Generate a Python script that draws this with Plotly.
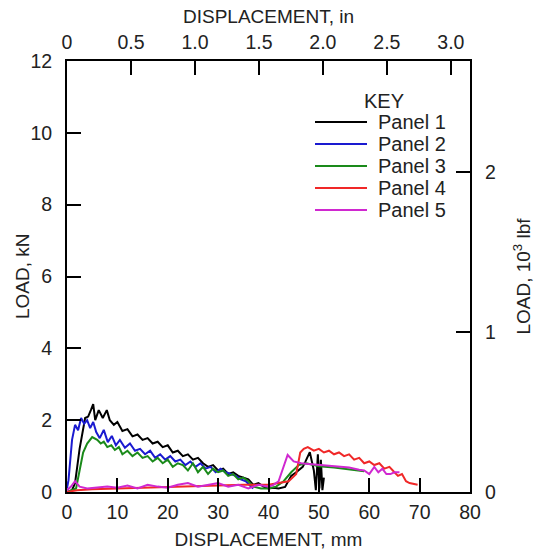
import plotly.graph_objects as go

# Panel data: displacement (mm), load (kN)
p1_x = [0.0, 1.0, 1.6, 2.5, 3.6, 4.2, 4.8, 5.2, 5.6, 6.3, 7.1, 7.9, 8.5, 9.3, 10.0, 11.0, 12.0, 13.0, 14.0, 15.0, 16.0, 17.0, 18.0, 19.0, 20.0, 21.0, 22.0, 23.0, 24.0, 25.0, 26.0, 27.0, 28.0, 29.0, 30.0, 31.0, 32.0, 33.0, 34.0, 35.0, 36.0, 37.0, 38.0, 39.0, 40.0, 41.0, 42.0, 43.3, 44.5, 45.5, 46.8, 47.3, 48.2, 49.0, 49.4, 49.8, 50.1, 50.4, 50.7, 51.0]
p1_y = [0.0, 0.05, 0.25, 1.2, 2.06, 2.1, 2.3, 2.45, 2.0, 2.28, 2.06, 2.28, 2.0, 1.87, 1.95, 1.7, 1.75, 1.55, 1.6, 1.45, 1.5, 1.35, 1.4, 1.25, 1.3, 1.1, 1.15, 1.0, 1.05, 0.9, 0.95, 0.8, 0.7, 0.75, 0.6, 0.65, 0.5, 0.55, 0.45, 0.4, 0.35, 0.2, 0.25, 0.15, 0.1, 0.12, 0.1, 0.14, 0.45, 0.55, 0.7, 0.84, 1.11, 0.6, 0.05, 1.05, 0.1, 0.9, 0.05, 0.4]

p2_x = [0.0, 0.3, 1.0, 1.6, 2.2, 2.8, 3.4, 4.0, 4.6, 5.2, 5.8, 6.5, 7.3, 8.1, 8.9, 9.7, 10.5, 11.5, 12.5, 13.5, 14.5, 15.5, 16.5, 17.5, 18.5, 19.5, 20.5, 21.5, 22.5, 23.5, 24.5, 25.5, 26.5, 27.5, 28.5, 29.5, 30.5, 31.5, 32.5, 33.5, 34.5, 35.5, 36.5, 37.0]
p2_y = [0.1, 0.33, 1.45, 1.87, 1.72, 2.06, 1.9, 2.0, 1.78, 1.95, 1.67, 1.5, 1.73, 1.39, 1.56, 1.3, 1.45, 1.23, 1.35, 1.15, 1.2, 1.05, 1.15, 0.95, 1.05, 0.9, 1.0, 0.85, 0.9, 0.75, 0.85, 0.7, 0.8, 0.65, 0.7, 0.55, 0.65, 0.55, 0.5, 0.45, 0.35, 0.3, 0.15, 0.1]

p3_x = [0.0, 1.0, 1.8, 2.5, 3.2, 4.0, 5.0, 6.0, 6.7, 7.3, 8.0, 8.8, 9.5, 10.3, 11.0, 12.0, 13.0, 14.0, 15.0, 16.0, 17.0, 18.0, 19.0, 20.0, 21.0, 22.0, 23.0, 24.0, 25.0, 26.0, 27.0, 28.0, 29.0, 30.0, 31.0, 32.0, 33.0, 34.0, 35.0, 36.0, 37.0, 38.5, 40.0, 41.5, 43.0, 44.5, 46.0, 47.5, 50.0, 53.0, 56.0, 59.0]
p3_y = [0.0, 0.05, 0.1, 0.6, 1.1, 1.35, 1.53, 1.45, 1.35, 1.4, 1.25, 1.3, 1.17, 1.25, 1.05, 1.15, 1.0, 1.1, 0.95, 1.0, 0.85, 0.95, 0.8, 0.9, 0.7, 0.8, 0.75, 0.6, 0.8, 0.55, 0.7, 0.5, 0.65, 0.55, 0.6, 0.45, 0.5, 0.35, 0.4, 0.3, 0.15, 0.1, 0.1, 0.15, 0.3, 0.55, 0.75, 0.8, 0.72, 0.68, 0.62, 0.58]

p4_x = [0.0, 2.0, 5.0, 10.0, 15.0, 20.0, 25.0, 30.0, 35.0, 40.0, 42.0, 44.0, 45.5, 46.3, 47.0, 47.8, 49.0, 50.0, 51.0, 52.0, 53.0, 54.0, 55.0, 56.0, 57.0, 58.0, 59.0, 60.0, 61.0, 62.0, 63.0, 64.0, 65.0, 65.7, 66.5, 67.3, 68.0, 69.6]
p4_y = [0.0, 0.05, 0.08, 0.1, 0.12, 0.15, 0.15, 0.18, 0.2, 0.2, 0.25, 0.3, 0.5, 1.1, 1.2, 1.25, 1.15, 1.2, 1.1, 1.15, 1.05, 1.1, 1.0, 1.05, 0.9, 0.95, 0.8, 0.85, 0.75, 0.8, 0.65, 0.7, 0.55, 0.45, 0.5, 0.3, 0.25, 0.2]

p5_x = [0.0, 0.8, 1.6, 2.5, 4.0, 6.0, 8.0, 10.0, 12.0, 14.0, 16.0, 18.0, 20.0, 22.0, 24.0, 26.0, 28.0, 30.0, 32.0, 34.0, 36.0, 38.0, 40.0, 41.0, 42.0, 43.0, 43.8, 45.0, 46.5, 48.0, 50.0, 52.0, 54.0, 56.0, 58.0, 59.0, 60.0, 61.0, 61.8, 62.6, 63.4, 64.2, 65.0, 66.0]
p5_y = [0.05, 0.15, 0.3, 0.15, 0.1, 0.12, 0.15, 0.12, 0.18, 0.1, 0.2, 0.15, 0.12, 0.2, 0.25, 0.15, 0.2, 0.25, 0.15, 0.2, 0.1, 0.2, 0.15, 0.2, 0.3, 0.7, 1.03, 0.85, 0.8, 0.78, 0.75, 0.72, 0.7, 0.68, 0.62, 0.6, 0.5, 0.7, 0.55, 0.65, 0.5, 0.5, 0.55, 0.55]

panels = ["Panel 1", "Panel 2", "Panel 3", "Panel 4", "Panel 5"]
colors = ["#000000", "#1a1ad0", "#1a8a1a", "#f02828", "#d028d0"]
series = [(p1_x, p1_y), (p2_x, p2_y), (p3_x, p3_y), (p4_x, p4_y), (p5_x, p5_y)]

x_mm_ticks = [0, 10, 20, 30, 40, 50, 60, 70, 80]
x_in_ticks = [0, 0.5, 1.0, 1.5, 2.0, 2.5, 3.0]
x_in_labels = ["0", "0.5", "1.0", "1.5", "2.0", "2.5", "3.0"]
y_kn_ticks = [0, 2, 4, 6, 8, 10, 12]
y_klbf_ticks = [0, 1, 2]

MM_PER_IN = 25.4
KN_PER_KLBF = 4.448

FONT = "Liberation Sans, Arial, sans-serif"
TXT = "#222222"
W, H = 534, 552
L, R, T, B = 67, 64, 61, 60

fig = go.Figure()
for name, col, (xs, ys) in zip(panels, colors, series):
    fig.add_trace(go.Scatter(x=xs, y=ys, mode="lines", name=name, showlegend=False,
                             line=dict(color=col, width=2)))

# trace on secondary axes (no data) so those axes are drawn
fig.add_trace(go.Scatter(x=[], y=[], xaxis="x2", yaxis="y2", showlegend=False,
                         hoverinfo="skip"))

axis_common = dict(showgrid=False, zeroline=False, showline=True, linecolor="black",
                   linewidth=2, ticks="inside", ticklen=14, tickwidth=2, tickcolor="black",
                   tickfont=dict(size=19.5, color=TXT), automargin=False)

TF = dict(size=19, color=TXT)

fig.update_layout(
    width=W, height=H,
    margin=dict(l=L, r=R, t=T, b=B),
    paper_bgcolor="white", plot_bgcolor="white",
    font=dict(family=FONT, size=19, color=TXT),
    xaxis=dict(range=[0, 80], tickvals=x_mm_ticks, ticklabelstandoff=2,
               title=dict(text="DISPLACEMENT, mm", standoff=10, font=TF), **axis_common),
    yaxis=dict(range=[0, 12], tickvals=y_kn_ticks, ticklabelstandoff=9, **axis_common),
    xaxis2=dict(range=[0, 80 / MM_PER_IN], tickvals=x_in_ticks, ticktext=x_in_labels,
                overlaying="x", side="top", anchor="y", ticklabelstandoff=2,
                title=dict(text="DISPLACEMENT, in", standoff=3, font=TF), **axis_common),
    yaxis2=dict(range=[0, 12 / KN_PER_KLBF], tickvals=y_klbf_ticks,
                overlaying="y", side="right", anchor="x", ticklabelstandoff=9,
                title=dict(text="LOAD, 10<sup>3</sup> lbf", standoff=22, font=TF), **axis_common),
    showlegend=False,
)

def px_x(p):
    return (p - L) / (W - L - R)

def px_y(p):
    return 1 - (p - T) / (H - T - B)

# Left axis title
fig.add_annotation(x=px_x(22), y=px_y(276), xref="paper", yref="paper", text="LOAD, kN",
                   showarrow=False, textangle=-90, xanchor="center", yanchor="middle",
                   font=TF)

# Key (line samples + labels placed in paper coords)
fig.add_annotation(x=px_x(384), y=px_y(101), xref="paper", yref="paper", text="KEY",
                   showarrow=False, xanchor="center", yanchor="middle",
                   font=dict(size=20, color=TXT))
row_y = [122, 144, 166, 188, 210]
for name, col, yy in zip(panels, colors, row_y):
    fig.add_shape(type="line", xref="paper", yref="paper",
                  x0=px_x(315), x1=px_x(367), y0=px_y(yy), y1=px_y(yy),
                  line=dict(color=col, width=2))
    fig.add_annotation(x=px_x(376), y=px_y(yy), xref="paper", yref="paper", text=name,
                       showarrow=False, xanchor="left", yanchor="middle",
                       font=dict(size=20, color=TXT))

fig.write_html("out.html", config={"displayModeBar": False},
               post_script="document.body.style.margin='0';document.body.style.padding='0';")
